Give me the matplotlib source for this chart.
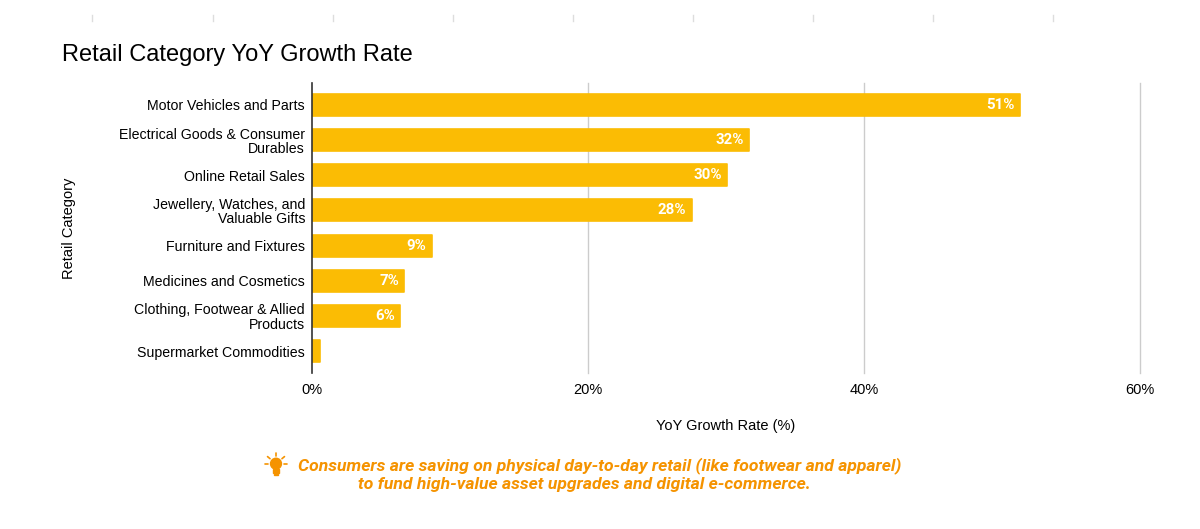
import numpy as np
import matplotlib.pyplot as plt
from matplotlib.lines import Line2D
from matplotlib.patches import Circle, Rectangle

categories = [
    "Motor Vehicles and Parts",
    "Electrical Goods & Consumer\nDurables",
    "Online Retail Sales",
    "Jewellery, Watches, and\nValuable Gifts",
    "Furniture and Fixtures",
    "Medicines and Cosmetics",
    "Clothing, Footwear & Allied\nProducts",
    "Supermarket Commodities",
]
growth = [51.3, 31.7, 30.1, 27.5, 8.7, 6.7, 6.4, 0.6]
xticks = [0, 20, 40, 60]

BAR = "#FBBC04"
ORANGE = "#F59300"

W, H = 1200, 529
fig = plt.figure(figsize=(12, 5.29), dpi=100)
ax = fig.add_axes([312 / W, 1 - 373 / H, (1140 - 312) / W, (373 - 83) / H])

y = np.arange(len(categories))
ax.barh(y, growth, height=0.63, color=BAR, edgecolor=BAR, linewidth=1.2,
        joinstyle="round", zorder=3)
for yi, v in zip(y, growth):
    if v >= 1:
        ax.text(v - 0.4, yi, f"{round(v)}%", ha="right", va="center",
                color="white", fontsize=10.8, fontweight="bold",
                family="Roboto", zorder=4)

ax.set_xlim(0, 60)
ax.set_ylim(len(categories) - 1 + 0.626, -0.626)
ax.set_xticks(xticks)
ax.set_xticklabels([f"{t}%" for t in xticks], fontsize=10.5, family="Liberation Sans")
ax.set_yticks(y)
ax.set_yticklabels(categories, fontsize=10.2, family="Liberation Sans",
                   linespacing=1.05)
ax.tick_params(length=0, pad=5)
ax.tick_params(axis="x", pad=7)
for t in xticks[1:]:
    ax.axvline(t, color="#cccccc", lw=1, zorder=1, clip_on=False)
for s in ["top", "right", "bottom"]:
    ax.spines[s].set_visible(False)
ax.spines["left"].set_color("#333333")
ax.spines["left"].set_linewidth(1.2)
ax.spines["left"].set_zorder(5)

ax.set_xlabel("YoY Growth Rate (%)", fontsize=10.5, family="Liberation Sans", labelpad=16)
ax.set_ylabel("Retail Category", fontsize=10.5, family="Liberation Sans")
ax.yaxis.set_label_coords(-(312 - 76) / (1140 - 312), 0.5)

fig.text(62 / W, 1 - 55 / H, "Retail Category YoY Growth Rate", fontsize=17,
         family="Liberation Sans", va="center", ha="left")

# faint marks along the top edge
for xp in [92, 213, 333, 453, 573, 693, 813, 933, 1053]:
    fig.add_artist(Line2D([xp / W, xp / W], [1 - 15 / H, 1 - 21 / H],
                          color="#dddddd", lw=1))

# insight note
fig.text(600 / W, 1 - 466 / H,
         "Consumers are saving on physical day-to-day retail (like footwear and apparel)",
         color=ORANGE, fontsize=12.6, fontweight="bold", style="italic",
         family="Roboto", ha="center", va="center")
fig.text(584 / W, 1 - 485 / H,
         "to fund high-value asset upgrades and digital e-commerce.",
         color=ORANGE, fontsize=12.6, fontweight="bold", style="italic",
         family="Roboto", ha="center", va="center")

# little bulb icon
icon = fig.add_axes([263 / W, 1 - 478 / H, 26 / W, 26 / H])
icon.set_xlim(-1, 1)
icon.set_ylim(-1, 1)
icon.set_aspect("equal")
icon.axis("off")
icon.add_patch(Circle((0, 0.1), 0.42, color=ORANGE))
icon.add_patch(Rectangle((-0.2, -0.6), 0.4, 0.3, color=ORANGE))
icon.add_patch(Rectangle((-0.14, -0.8), 0.28, 0.12, color=ORANGE))
for a in np.deg2rad([0, 40, 90, 140, 180]):
    icon.plot([0.6 * np.cos(a), 0.85 * np.cos(a)],
              [0.1 + 0.6 * np.sin(a), 0.1 + 0.85 * np.sin(a)],
              color=ORANGE, lw=1.2, solid_capstyle="round")

fig.savefig("out.png", dpi=100)
